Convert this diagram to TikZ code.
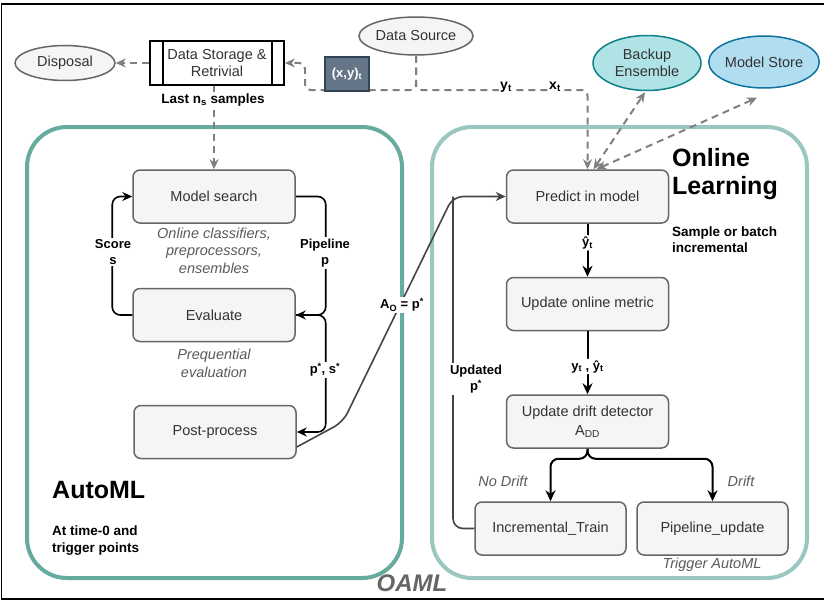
\documentclass[tikz,border=0pt]{standalone}
\usepackage{fontspec}
\setmainfont{Liberation Sans}
\usetikzlibrary{shapes.geometric,arrows.meta,calc}
\definecolor{tealA}{HTML}{67AB9F}
\definecolor{tealB}{HTML}{9AC7BF}
\definecolor{boxfill}{HTML}{F5F5F5}
\definecolor{boxline}{HTML}{666666}
\definecolor{txt}{HTML}{333333}
\definecolor{itl}{HTML}{5A5A5A}
\definecolor{dgray}{HTML}{808080}
\definecolor{slateF}{HTML}{647687}
\definecolor{slateD}{HTML}{314354}
\definecolor{beF}{HTML}{B0E3E6}
\definecolor{beD}{HTML}{0E8088}
\definecolor{msF}{HTML}{B1DDF0}
\definecolor{msD}{HTML}{10739E}
\definecolor{lineg}{HTML}{444444}
\newcommand\fsReg{\fontsize{14.5}{17}\selectfont}
\newcommand\fsIt{\fontsize{14.5}{17.5}\selectfont\itshape}
\newcommand\fsLab{\fontsize{13}{16}\selectfont\bfseries}
\newcommand\fsTitle{\fontsize{25}{28}\selectfont\bfseries}
\begin{document}
\begin{tikzpicture}[x=1pt,y=-1pt,
  ellnode/.style={ellipse, draw=boxline, fill=boxfill, line width=1.5pt, inner sep=0pt, font=\fsReg, text=txt, align=center},
  storage/.style={draw=black, fill=white, line width=1.8pt, minimum width=134pt, minimum height=44pt, inner sep=0pt, font=\fsReg, text=txt, align=center},
  cont/.style={rounded corners=40pt, line width=4pt, inner sep=0pt, minimum width=375pt, minimum height=451pt},
  box/.style={draw=boxline, fill=boxfill, line width=1.5pt, rounded corners=7pt, minimum width=162pt, minimum height=53pt, inner sep=0pt, font=\fsReg, text=txt, align=center},
  itext/.style={font=\fsIt, text=itl, align=center, inner sep=0pt},
  lbl/.style={font=\fsLab, fill=white, inner sep=1.5pt, align=center, text=black},
  darr/.style={draw=dgray, line width=2pt, dash pattern=on 7pt off 5pt, -{Stealth[length=10pt,width=9pt]}},
  darrb/.style={draw=dgray, line width=2pt, dash pattern=on 7pt off 5pt, {Stealth[length=10pt,width=9pt]}-{Stealth[length=10pt,width=9pt]}},
  carr/.style={draw=black, line width=1.6pt, rounded corners=8pt, -{Stealth[length=10pt,width=9pt]}},
  barr/.style={draw=black, line width=2pt, rounded corners=8pt, -{Stealth[length=11pt,width=10pt]}},
  garr/.style={draw=lineg, line width=1.6pt, rounded corners=10pt, -{Stealth[length=10pt,width=9pt]}},
  gline/.style={draw=lineg, line width=1.6pt, rounded corners=10pt}
]
\useasboundingbox (0,0) rectangle (824,602);
% frame
\draw[line width=1.2pt, black] (830,4) -- (1.5,4) -- (1.5,599) -- (830,599);

% containers
\node[cont, draw=tealA] (aml) at (214.5,352.5) {};
\node[cont, draw=tealB] (olc) at (619.5,352.5) {};

% top nodes
\node[ellnode, minimum width=100pt, minimum height=35pt] (dp) at (65,63) {Disposal};
\node[storage] (st) at (217,63) {Data Storage \&\\Retrivial};
\draw[line width=1.8pt] ($(st.north west)+(14,0)$) -- ($(st.south west)+(14,0)$);
\draw[line width=1.8pt] ($(st.north east)+(-13,0)$) -- ($(st.south east)+(-13,0)$);
\node[ellnode, minimum width=97pt, minimum height=38pt] (ds) at (416,36) {Data Source};
\node[ellnode, fill=beF, draw=beD, minimum width=108pt, minimum height=55pt] (be) at (647,63) {Backup\\Ensemble};
\node[ellnode, fill=msF, draw=msD, minimum width=108pt, minimum height=52pt] (mst) at (764,62) {Model Store};

% AutoML boxes
\node[box] (msr) at (214,196.5) {Model search};
\node[box] (ev) at (214,315) {Evaluate};
\node[box] (pp) at (215,432) {Post-process};
\node[itext] (t1) at (214,250.5) {Online classifiers,\\preprocessors,\\ensembles};
\node[itext] (t2) at (214,363.5) {Prequential\\evaluation};

% Online boxes
\node[box] (pr) at (587.5,196.5) {Predict in model};
\node[box] (um) at (587.5,304) {Update online metric};
\node[box, font=\fontsize{14.5}{19}\selectfont] (dd) at (587.5,421.5) {Update drift detector\\A\textsubscript{DD}};
\node[box, minimum width=151pt] (it) at (550.5,528.5) {Incremental\_Train};
\node[box, minimum width=151pt] (pu) at (712.5,528.5) {Pipeline\_update};

% dashed data flow
\coordinate (j1) at (305,90);
\coordinate (j2) at (416,90);
\draw[darr, rounded corners=6pt] (ds.south) -- (j2) -- (j1) |- (st.east);
\draw[darr, rounded corners=6pt] (ds.south) -- (j2) -| (pr.north);
\draw[darr] (st.west) -- (dp.east);
\draw[darr] (msr.north |- st.south) -- (msr.north);
\draw[darrb] ($(pr.north)+(6,0)$) -- ($(be.south)+(-2,1)$);
\draw[darrb] ($(pr.north)+(9,0)$) -- ($(mst.south)+(-7,9)$);
\node[draw=slateD, fill=slateF, line width=1.2pt, minimum width=44pt, minimum height=34pt, inner sep=0pt, text=white, font=\fsLab] (xy) at (347,74) {(x,y)\textsubscript{t}};
\node[lbl, font=\fontsize{14}{16}\selectfont\bfseries] (yt) at (506,87) {y\textsubscript{t}};
\node[lbl, font=\fontsize{14}{16}\selectfont\bfseries] (xt) at (555,87) {x\textsubscript{t}};
\node[lbl, font=\fontsize{13.5}{16}\selectfont\bfseries] (ln) at (213,100) {Last n\textsubscript{s} samples};

% AutoML loop
\draw[carr] (ev.west) -- ++(-20,0) |- (msr.west);
\draw[carr] (msr.east) -- ++(30,0) |- (ev.east);
\draw[carr] (ev.east) -- ++(30,0) |- (pp.east);
\node[lbl] (sc) at (113,252) {Score\\s};
\node[lbl] (pl) at (325,253) {Pipeline\\p};
\node[lbl] (ps) at (325,370) {p\textsuperscript{*}, s\textsuperscript{*}};

% A_O = p* and updated p*
\coordinate (k1) at (343,422);
\coordinate (k2) at (453,196.5);
\draw[garr] ($(pp.east)+(0,15)$) -- (k1) -- (k2) -- (pr.west);
\draw[gline] (it.west) -| (k2);
\node[lbl] (ao) at (402,305) {A\textsubscript{O} = p\textsuperscript{*}};
\node[lbl] (up) at (476,379) {Updated\\p\textsuperscript{*}};

% online flow
\draw[barr] (pr.south) -- (um.north) node[lbl, pos=0.36] (l1) {ŷ\textsubscript{t}};
\draw[barr] (um.south) -- (dd.north) node[lbl, pos=0.56] (l2) {y\textsubscript{t} , ŷ\textsubscript{t}};
\draw[barr] (dd.south) -- ++(0,10) -| (it.north);
\draw[barr] (dd.south) -- ++(0,10) -| (pu.north);
\node[itext] (nd) at (503,481) {No Drift};
\node[itext] (dr) at (741,481) {Drift};
\node[itext] (ta) at (712,565) {Trigger AutoML};

% titles
\node[font=\fsTitle, anchor=west, align=left, inner sep=0pt] (olt) at (672,174) {Online\\Learning};
\node[font=\fontsize{13.5}{16}\selectfont\bfseries, anchor=west, align=left, inner sep=0pt] (ols) at (672,240) {Sample or batch\\incremental};
\node[font=\fsTitle, anchor=west, inner sep=0pt] (amt) at (52,490) {AutoML};
\node[font=\fontsize{13.5}{17}\selectfont\bfseries, anchor=west, align=left, inner sep=0pt] (ams) at (52,541) {At time-0 and\\trigger points};
\node[font=\fontsize{24}{28}\selectfont\bfseries\itshape, text=boxline, inner sep=0pt] (oaml) at (412,583) {OAML};
\end{tikzpicture}
\end{document}
